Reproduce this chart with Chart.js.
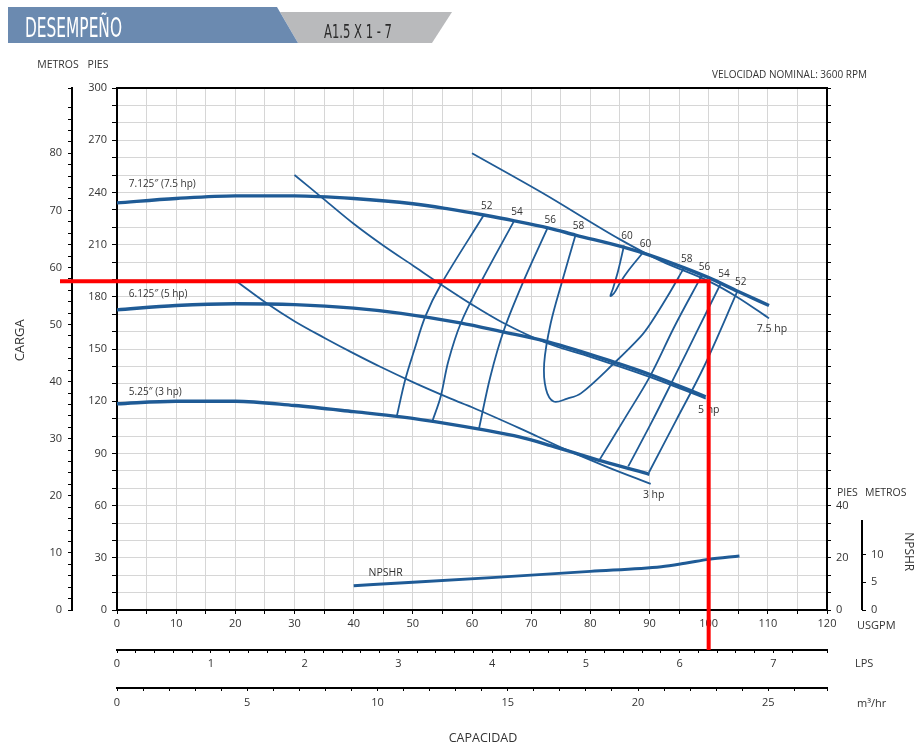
<!DOCTYPE html>
<html lang="es">
<head>
<meta charset="utf-8">
<title>Desempeño A1.5 X 1 - 7</title>
<script src="https://cdn.jsdelivr.net/npm/chart.js@4.4.1/dist/chart.umd.min.js"></script>
<style>
  html, body { margin: 0; padding: 0; background: #fff; overflow: hidden; }
  #chart { display: block; }
</style>
</head>
<body>
<canvas id="chart" width="922" height="744"></canvas>
<script>
// ---- Curves: [USGPM, feet] ----
const head7125 = [[0,234],[10,236.5],[20,238],[30,238],[40,236.5],[50,233.5],[56,230.5],[62,227],[67,223.8],[73,219.5],[77.5,215.5],[85.6,208.6],[90,204],[96,196.5],[100,191],[105,183],[110.2,175]];
const head6125 = [[0,172.5],[10,175],[20,176],[30,175.5],[40,173.5],[48,170.5],[58,165],[65,160],[73,154],[84,142.5],[90,135.5],[99.5,122.5]];
const head525  = [[0,118.5],[10,120],[20,120],[30,117.5],[40,114],[48,111],[56,107],[62,103.5],[68,99.5],[73.3,94.5],[82,85.5],[90,78]];

// power limit lines
const power75 = [[60,262.5],[72,239.5],[85,213],[92,200.5],[100,189],[105,179.5],[110.2,167.6]];
const power5  = [[30,250],[35,236],[40,222],[45,209.5],[50,198],[55,186.5],[60,175.5],[65,165.5],[72.7,153.3],[80,145.5],[90,134],[99.5,121.5]];
const power3  = [[20.3,188.7],[25.3,176.3],[30,166],[35,156.5],[40,147.5],[44.5,139.8],[50,131],[56.4,121.5],[60,116.5],[68,104.5],[76,92],[83,82],[90.2,72.5]];

// efficiency contours (%), first point = top end
const eff52L = [[62,227],[54.7,186.8],[52.1,168.6],[50.3,150],[48.7,132.2],[47.3,111.5]];
const eff54L = [[67.1,223.5],[61.4,187.8],[58.1,164.8],[56,143],[54.7,122.6],[53.3,108.5]];
const eff56L = [[72.7,219],[68.8,189.7],[65.4,160.9],[63.1,134.1],[61.2,104.5]];
const eff58  = [[77.5,215.5],[75.3,189.7],[73.3,164.8],[72.2,141.8],[72.5,127],[73.8,119.8],[76.1,121.5],[78.4,124.5],[84,141.8],[88.5,157.1],[90.2,164.8],[93,180],[95.8,196.5]];
const eff60  = [[85.7,209.5],[84.7,195],[83.8,184.5],[83.4,180.5],[84,182],[85,188],[86.5,195.4],[88.8,205]];
const eff56R = [[98.8,192],[94.2,162.8],[90.2,135],[85.8,110],[81.5,86]];
const eff54R = [[102.1,188],[98,160],[94.3,134.5],[90.3,107.5],[86.4,82.5]];
const eff52R = [[104.9,183.5],[99.2,139.8],[94.5,109],[89.9,79]];
const effLines  = [eff52L, eff54L, eff56L, eff58, eff60, eff56R, eff54R, eff52R];
const effValues = [52, 54, 56, 58, 60, 56, 54, 52];
const effLoops  = [false, false, false, true, true, false, false, false];

// NPSHR [USGPM, feet of NPSH]
const npshr = [[40,9.3],[50,10.6],[64,12.5],[80,14.8],[92,16.6],[96,17.9],[100,19.4],[105.2,20.7]];

// design point [USGPM, feet]
const designPoint = [100, 189];

// labels
const headLabels   = ['7.125\u2033 (7.5 hp)', '6.125\u2033 (5 hp)', '5.25\u2033 (3 hp)'];
const headLabelAt  = [[2,244.8],[2,181.6],[2,125.3]];
const powerLabels  = ['7.5 hp', '5 hp', '3 hp'];

// axes
const GPM_PER_LPS = 15.8503;
const GPM_PER_M3H = 4.40287;
const M_PER_FT = 0.3048;
const npshTicks = Array.from({ length: 31 }, (_, k) => k * 20 / 3);
const npshMetrosTicks = [0, 5, 10];
const npshMetrosTop = 16.2;

const BLUE = '#1f5b96';
const TXT = '#333';
const FONT = '"Open Sans", "DejaVu Sans", sans-serif';
Chart.defaults.font.family = FONT;

// smooth = true for curves whose x only grows
function line(data, width, smooth, axis) {
    const ds = {
        data: data.map(([x, y]) => ({ x, y })),
        borderColor: BLUE, borderWidth: width,
        pointRadius: 0, tension: 0.35, fill: false,
        xAxisID: 'x', yAxisID: axis || 'y'
    };
    if (smooth) ds.cubicInterpolationMode = 'monotone';
    return ds;
}

function isNear(v, list) {
    return list.some(t => Math.abs(v - t) < 1e-6);
}

function squeezeText(ctx, text, x, baseline, size, width, color) {
    ctx.save();
    ctx.font = size + 'px "DejaVu Sans Condensed", "DejaVu Sans", sans-serif';
    const w = ctx.measureText(text).width;
    ctx.translate(x, baseline);
    ctx.scale(width / w, 1);
    ctx.fillStyle = color;
    ctx.textAlign = 'left';
    ctx.textBaseline = 'alphabetic';
    ctx.fillText(text, 0, 0);
    ctx.restore();
}

function text(ctx, s, x, y, size, align, rot) {
    ctx.save();
    ctx.font = size + 'px ' + FONT;
    ctx.fillStyle = TXT;
    ctx.textAlign = align || 'left';
    ctx.textBaseline = 'middle';
    ctx.translate(x, y);
    if (rot) ctx.rotate(rot);
    ctx.fillText(s, 0, 0);
    ctx.restore();
}

const decor = {
    id: 'decor',
    beforeDraw(chart) {
        const ctx = chart.ctx;
        ctx.save();
        // header tabs
        ctx.fillStyle = '#b9babc';
        ctx.beginPath();
        ctx.moveTo(280, 12); ctx.lineTo(452, 12); ctx.lineTo(432, 43); ctx.lineTo(298, 43);
        ctx.closePath(); ctx.fill();
        ctx.fillStyle = '#6b8ab0';
        ctx.beginPath();
        ctx.moveTo(8, 7); ctx.lineTo(277, 7); ctx.lineTo(298, 43); ctx.lineTo(8, 43);
        ctx.closePath(); ctx.fill();
        ctx.restore();
        squeezeText(ctx, 'DESEMPEÑO', 25, 37, 26, 97, '#fff');
        squeezeText(ctx, 'A1.5 X 1 - 7', 324, 38, 20, 68, '#2b2b2b');
    },
    afterDatasetsDraw(chart) {
        const { ctx, chartArea: a, scales: s } = chart;
        const X = v => s.x.getPixelForValue(v);
        const Y = v => s.y.getPixelForValue(v);

        ctx.save();
        ctx.strokeStyle = '#000';
        ctx.lineWidth = 2;
        // top frame
        ctx.beginPath();
        ctx.moveTo(a.left - 1, a.top); ctx.lineTo(a.right + 1, a.top);
        ctx.stroke();
        // short NPSHR metros axis
        ctx.beginPath();
        ctx.moveTo(s.yNm.left, s.yNm.getPixelForValue(0));
        ctx.lineTo(s.yNm.left, s.yNm.getPixelForValue(npshMetrosTop));
        ctx.stroke();
        ctx.restore();

        // curve labels
        headLabels.forEach((t, i) => text(ctx, t, X(headLabelAt[i][0]), Y(headLabelAt[i][1]), 10, 'left'));
        effLines.forEach((pts, i) => {
            const ends = effLoops[i] ? [pts[0], pts[pts.length - 1]] : [pts[0]];
            ends.forEach(p => text(ctx, String(effValues[i]), X(p[0]) + 3, Y(p[1]) - 9, 10, 'center'));
        });
        [power75, power5, power3].forEach((pts, i) => {
            const p = pts[pts.length - 1];
            text(ctx, powerLabels[i], X(p[0]) + 3, Y(p[1]) + 11, 10.5, 'center');
        });
        const n0 = npshr[0];
        text(ctx, 'NPSHR', X(n0[0]) + 32, s.yN.getPixelForValue(n0[1]) - 13, 10.5, 'center');

        // axis captions
        text(ctx, 'METROS', s.ym.right - 14, a.top - 23, 10.5, 'center');
        text(ctx, 'PIES', s.y.right - 19, a.top - 23, 10.5, 'center');
        text(ctx, 'VELOCIDAD NOMINAL: 3600 RPM', a.right + 40, a.top - 13, 10, 'right');
        const npshTopPx = s.yN.getPixelForValue(40);
        text(ctx, 'PIES', a.right + 10, npshTopPx - 13, 10.5, 'left');
        text(ctx, 'METROS', s.yNm.left + 3, npshTopPx - 13, 10.5, 'left');
        text(ctx, 'NPSHR', s.yNm.right + 16, s.yNm.getPixelForValue(10.5), 12, 'center', Math.PI / 2);
        text(ctx, 'USGPM', a.right + 30, s.x.top + 16, 11, 'left');
        text(ctx, 'LPS', a.right + 28, s.xl.top + 14, 11, 'left');
        text(ctx, 'm\u00b3/hr', a.right + 30, s.xm.top + 16, 11, 'left');
        text(ctx, 'CAPACIDAD', 483, s.xm.bottom + 10, 12.5, 'center');
        text(ctx, 'CARGA', 20, Y(155), 13, 'center', -Math.PI / 2);

        // design point marker
        ctx.save();
        ctx.strokeStyle = '#ff0000';
        ctx.lineWidth = 4;
        const dx = X(designPoint[0]), dy = Y(designPoint[1]);
        ctx.beginPath();
        ctx.moveTo(s.ym.right - 12, dy); ctx.lineTo(dx + 2, dy);
        ctx.moveTo(dx, dy - 2); ctx.lineTo(dx, s.xl.top);
        ctx.stroke();
        ctx.restore();
    }
};

const tickFont = { size: 11 };
const black = '#000';

new Chart(document.getElementById('chart'), {
    type: 'line',
    data: {
        datasets: [
            ...effLines.map(d => line(d, 1.8, false)),
            line(power75, 1.8, true), line(power5, 1.8, true), line(power3, 1.8, true),
            line(head7125, 3.4, true), line(head6125, 3.4, true), line(head525, 3.4, true),
            line(npshr, 3, true, 'yN')
        ]
    },
    options: {
        responsive: false,
        animation: false,
        events: [],
        layout: { padding: { top: 88, left: 49, right: 30, bottom: 16 } },
        plugins: { legend: { display: false }, tooltip: { enabled: false } },
        scales: {
            x: {
                type: 'linear', position: 'bottom', weight: 0, min: 0, max: 120,
                border: { color: black, width: 2 },
                grid: { color: '#d6d6d6', lineWidth: 1, tickColor: black, tickLength: 4 },
                ticks: { stepSize: 5, autoSkip: false, maxRotation: 0, padding: 3, color: TXT, font: tickFont,
                         callback: v => (v % 10 === 0 ? v : '') },
                afterFit: sc => { sc.height = 40; }
            },
            xl: {
                type: 'linear', position: 'bottom', weight: 1, min: 0, max: 120 / GPM_PER_LPS,
                border: { color: black, width: 2 },
                grid: { drawOnChartArea: false, tickColor: black, tickLength: 3 },
                ticks: { stepSize: 0.2, autoSkip: false, maxRotation: 0, padding: 4, color: TXT, font: tickFont,
                         callback: v => (Math.abs(v - Math.round(v)) < 1e-6 ? Math.round(v) : '') },
                afterFit: sc => { sc.height = 38; }
            },
            xm: {
                type: 'linear', position: 'bottom', weight: 2, min: 0, max: 120 / GPM_PER_M3H,
                border: { color: black, width: 2 },
                grid: { drawOnChartArea: false, tickColor: black, tickLength: 3 },
                ticks: { stepSize: 1, autoSkip: false, maxRotation: 0, padding: 5, color: TXT, font: tickFont,
                         callback: v => (v % 5 === 0 ? v : '') },
                afterFit: sc => { sc.height = 40; }
            },
            y: {
                type: 'linear', position: 'left', weight: 0, min: 0, max: 300,
                border: { color: black, width: 2 },
                grid: { color: '#d6d6d6', lineWidth: 1, tickColor: black, tickLength: 5 },
                ticks: { stepSize: 10, autoSkip: false, padding: 5, color: TXT, font: tickFont,
                         callback: v => (v % 30 === 0 ? v : '') },
                afterFit: sc => { sc.width = 45; }
            },
            ym: {
                type: 'linear', position: 'left', weight: 1, min: 0, max: 300 * M_PER_FT,
                border: { color: black, width: 2 },
                grid: { drawOnChartArea: false, tickColor: black, tickLength: 4 },
                ticks: { stepSize: 2, autoSkip: false, padding: 6, color: TXT, font: tickFont,
                         callback: v => (v % 10 === 0 ? v : '') },
                afterFit: sc => { sc.width = 23; }
            },
            yN: {
                type: 'linear', position: 'right', weight: 0, min: 0, max: 200,
                border: { color: black, width: 2 },
                grid: { drawOnChartArea: false, tickColor: black, tickLength: 4 },
                afterBuildTicks: sc => { sc.ticks = npshTicks.map(v => ({ value: v })); },
                ticks: { autoSkip: false, padding: 5, color: TXT, font: tickFont,
                         callback: v => (isNear(v, [0, 20, 40]) ? Math.round(v) : '') },
                afterFit: sc => { sc.width = 35; }
            },
            yNm: {
                type: 'linear', position: 'right', weight: 1, min: 0, max: 94,
                border: { display: false },
                grid: { drawOnChartArea: false, tickColor: black, tickLength: 4 },
                afterBuildTicks: sc => { sc.ticks = npshMetrosTicks.map(v => ({ value: v })); },
                ticks: { autoSkip: false, padding: 5, color: TXT, font: tickFont },
                afterFit: sc => { sc.width = 30; }
            }
        }
    },
    plugins: [decor]
});
</script>
</body>
</html>
